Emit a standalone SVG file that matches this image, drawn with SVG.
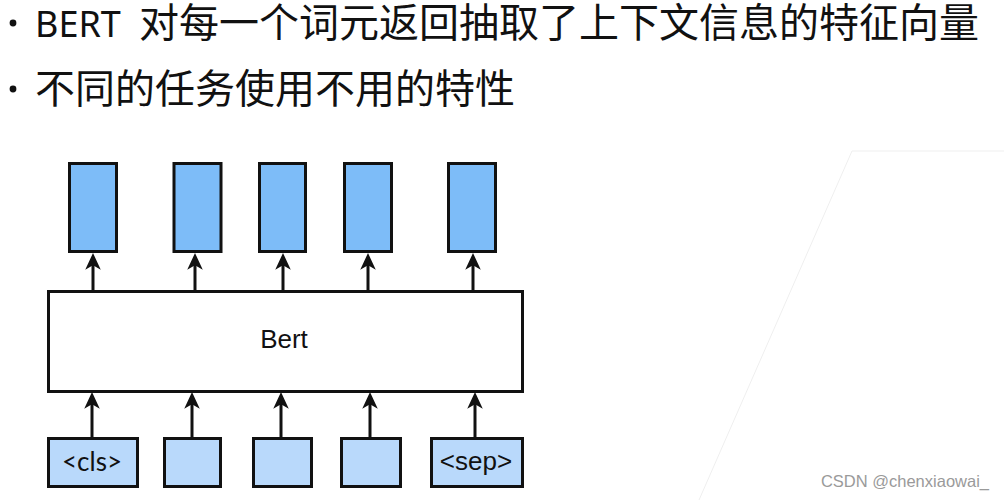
<svg xmlns="http://www.w3.org/2000/svg" width="1004" height="500" viewBox="0 0 1004 500">
<defs>
<style>
.hd{font-family:"Noto Sans CJK SC","Noto Sans",sans-serif;font-size:40px;fill:#111}
.lat{font-family:"Noto Sans","Open Sans",sans-serif;font-size:36px;fill:#111}
.out{fill:#7dbcf8;stroke:#111;stroke-width:3}
.inp{fill:#b9d9fb;stroke:#111;stroke-width:3}
.bert{fill:#fff;stroke:#111;stroke-width:3}
.conn{stroke:#111;stroke-width:3;fill:none;marker-end:url(#ah)}
.lbl{font-family:"Liberation Sans",Arial,sans-serif;fill:#111;text-anchor:middle}
</style>
<marker id="ah" markerUnits="userSpaceOnUse" markerWidth="20" markerHeight="20" refX="0" refY="0" viewBox="-8 -8 18 16" orient="auto" overflow="visible">
<path d="M9,0 L-6,-7 L-2,0 L-6,7 Z" fill="#111"/>
</marker>
</defs>
<rect width="1004" height="500" fill="#fff"/>
<path d="M1004,151 L852,151 L699,500" fill="none" stroke="#efefef" stroke-width="1"/>
<g id="header">
<circle cx="13" cy="23" r="3.4" fill="#111"/>
<text class="lat" x="35" y="37">BERT</text>
<text class="hd" x="139" y="37">对每一个词元返回抽取了上下文信息的特征向量</text>
<circle cx="13" cy="89" r="3.4" fill="#111"/>
<text class="hd" x="35" y="103">不同的任务使用不用的特性</text>
</g>
<g id="outputs">
<rect id="out1" class="out" x="69.5" y="163.5" width="47" height="88"/>
<rect id="out2" class="out" x="174" y="163.5" width="47" height="88"/>
<rect id="out3" class="out" x="259.5" y="163.5" width="46" height="88"/>
<rect id="out4" class="out" x="344.5" y="163.5" width="47" height="88"/>
<rect id="out5" class="out" x="448.5" y="163.5" width="47" height="88"/>
</g>
<g id="bert">
<rect class="bert" x="48.5" y="291.5" width="474" height="100"/>
<text class="lbl" x="284" y="348" font-size="26">Bert</text>
</g>
<g id="inputs">
<g id="in1"><rect class="inp" x="48.5" y="438.5" width="89" height="48"/><text x="92" y="471" font-family="Lato,'Open Sans',sans-serif" font-size="26" fill="#111" text-anchor="middle">&lt;cls&gt;</text></g>
<g id="in2"><rect class="inp" x="164.5" y="438.5" width="56" height="48"/></g>
<g id="in3"><rect class="inp" x="253.5" y="438.5" width="58" height="48"/></g>
<g id="in4"><rect class="inp" x="341.5" y="438.5" width="59" height="48"/></g>
<g id="in5"><rect class="inp" x="431.5" y="438.5" width="91" height="48"/><text class="lbl" x="476" y="470" font-size="26">&lt;sep&gt;</text></g>
</g>
<g id="connectors">
<line class="conn" x1="93" y1="290" x2="93" y2="263"/>
<line class="conn" x1="195" y1="290" x2="195" y2="263"/>
<line class="conn" x1="283" y1="290" x2="283" y2="263"/>
<line class="conn" x1="368" y1="290" x2="368" y2="263"/>
<line class="conn" x1="473" y1="290" x2="473" y2="263"/>
<line class="conn" x1="92" y1="437" x2="92" y2="402"/>
<line class="conn" x1="192" y1="437" x2="192" y2="402"/>
<line class="conn" x1="281" y1="437" x2="281" y2="402"/>
<line class="conn" x1="370" y1="437" x2="370" y2="402"/>
<line class="conn" x1="475" y1="437" x2="475" y2="402"/>
</g>
<text x="989" y="487" font-family="Liberation Sans,Arial,sans-serif" font-size="16.5" fill="#9a9a9a" text-anchor="end">CSDN @chenxiaowai_</text>
</svg>
